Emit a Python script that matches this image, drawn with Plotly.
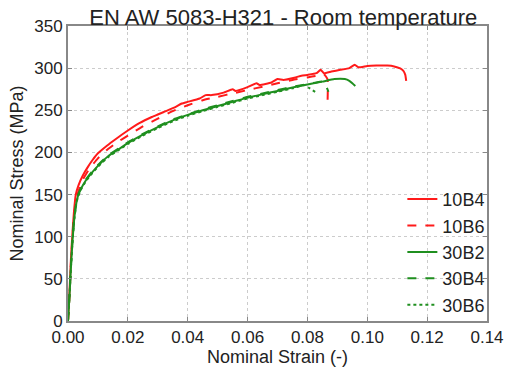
import plotly.graph_objects as go

# 10B4 (red solid)
strain_10B4 = [0, 0.0005, 0.001, 0.0015, 0.002, 0.0026, 0.0035, 0.005, 0.0065, 0.0082, 0.01, 0.013,
               0.016, 0.02, 0.024, 0.028, 0.03, 0.032, 0.036, 0.038, 0.04, 0.044, 0.046, 0.048, 0.052,
               0.055, 0.056, 0.06, 0.063, 0.064, 0.068, 0.07, 0.072, 0.076, 0.078, 0.08, 0.083, 0.0844,
               0.0855, 0.088, 0.091, 0.094, 0.0958, 0.097, 0.1, 0.103, 0.1067, 0.109, 0.111, 0.112,
               0.1127, 0.113]
stress_10B4 = [0, 35, 75, 105, 130, 150, 161, 173, 182, 191, 199, 208,
               216, 226, 235, 242, 245, 248, 254, 258, 260, 264, 268, 268, 271,
               275, 273, 277.5, 282, 280, 283, 287, 286, 289, 291, 292, 294, 298,
               294, 296, 298, 300, 304, 301, 302.6, 303, 303, 302, 299.6, 297,
               292, 285]

# 10B6 (red dashed)
strain_10B6 = [0, 0.0005, 0.001, 0.0015, 0.002, 0.003, 0.0039, 0.005, 0.007, 0.01, 0.013, 0.016,
               0.02, 0.025, 0.03, 0.035, 0.04, 0.045, 0.05, 0.055, 0.06, 0.065, 0.07, 0.075, 0.08,
               0.083, 0.0855, 0.0867, 0.0867]
stress_10B6 = [0, 30, 70, 100, 125, 148, 158, 168, 180, 193, 203, 211,
               220, 231, 240, 249, 256, 262, 266, 270, 274, 278, 282, 286, 289,
               291, 293, 287, 256]

# 30B2 (green solid)
strain_30B2 = [0, 0.0005, 0.001, 0.0015, 0.002, 0.0027, 0.0033, 0.0045, 0.006, 0.008, 0.01, 0.0136,
               0.017, 0.02, 0.025, 0.03, 0.035, 0.04, 0.045, 0.05, 0.055, 0.06, 0.065, 0.07, 0.075,
               0.08, 0.085, 0.089, 0.0925, 0.094, 0.095, 0.096]
stress_30B2 = [0, 30, 65, 95, 118, 138, 148, 158, 167, 176, 184, 196,
               204, 211, 221, 230, 238, 244.5, 250, 255, 260, 265, 269, 273, 277,
               280.6, 284, 287, 287, 285, 282, 278.7]

# 30B4 (green dashed)
strain_30B4 = [0, 0.0005, 0.001, 0.0015, 0.002, 0.0027, 0.0033, 0.0045, 0.006, 0.008, 0.01, 0.0136,
               0.017, 0.02, 0.025, 0.03, 0.035, 0.04, 0.045, 0.05, 0.055, 0.06, 0.065, 0.07, 0.075,
               0.08, 0.083, 0.0855, 0.087]
stress_30B4 = [0, 31, 66, 96, 119, 139, 149, 159, 168, 177, 185, 197,
               205, 212, 222, 231, 239, 245, 251, 256, 261, 266, 270, 274, 278,
               281, 283, 284, 272]

# 30B6 (green dotted)
strain_30B6 = [0, 0.0005, 0.001, 0.0015, 0.002, 0.0027, 0.0033, 0.0045, 0.006, 0.008, 0.01, 0.0136,
               0.017, 0.02, 0.025, 0.03, 0.035, 0.04, 0.045, 0.05, 0.055, 0.06, 0.065, 0.07, 0.075,
               0.079, 0.0808, 0.0834]
stress_30B6 = [0, 30, 64, 94, 117, 137, 147, 157, 166, 175, 183, 195,
               203, 210, 220, 229, 237, 243.5, 249, 254, 259, 264, 268, 272, 276,
               280, 276, 270]

series = [
    ("10B4", strain_10B4, stress_10B4, "#ff1a1a", "solid"),
    ("10B6", strain_10B6, stress_10B6, "#ff1a1a", "dash"),
    ("30B2", strain_30B2, stress_30B2, "#1f8f1f", "solid"),
    ("30B4", strain_30B4, stress_30B4, "#1f8f1f", "dash"),
    ("30B6", strain_30B6, stress_30B6, "#1f8f1f", "dot"),
]

x_ticks = [0, 0.02, 0.04, 0.06, 0.08, 0.10, 0.12, 0.14]
y_ticks = [0, 50, 100, 150, 200, 250, 300, 350]

fig = go.Figure()
for name, xs, ys, color, dash in series:
    fig.add_trace(go.Scatter(x=xs, y=ys, mode="lines", name=name,
                             line=dict(color=color, width=2, dash=dash, shape="spline", smoothing=0.4)))

font_family = "Liberation Sans, Arial, sans-serif"
axis_common = dict(
    showline=True, linecolor="#888888", linewidth=2, mirror="ticks",
    ticks="inside", ticklen=4, tickcolor="#888888",
    showgrid=True, gridcolor="#cccccc", griddash="dot", gridwidth=1,
    zeroline=False, tickfont=dict(family=font_family, size=17, color="#222222"),
)

fig.update_layout(
    width=516, height=376,
    margin=dict(l=68, r=17, t=26, b=49),
    paper_bgcolor="white", plot_bgcolor="white",
    title=dict(text="EN AW 5083-H321 - Room temperature", x=0.549, xanchor="center",
               y=0.955, yanchor="middle",
               font=dict(family=font_family, size=22, color="#222222")),
    xaxis=dict(range=[0, 0.14], tickvals=x_ticks, tickformat=".2f",
               title=dict(text="Nominal Strain (-)", standoff=4,
                          font=dict(family=font_family, size=18, color="#222222")),
               **axis_common),
    yaxis=dict(range=[0, 350], tickvals=y_ticks,
               title=dict(text="Nominal Stress (MPa)", standoff=6,
                          font=dict(family=font_family, size=18, color="#222222")),
               **axis_common),
    legend=dict(x=0.798, y=0.475, xanchor="left", yanchor="top",
                bgcolor="rgba(0,0,0,0)", borderwidth=0, tracegroupgap=0,
                font=dict(family=font_family, size=18, color="#222222")),
    showlegend=True,
)

fig.write_html("out.html")
